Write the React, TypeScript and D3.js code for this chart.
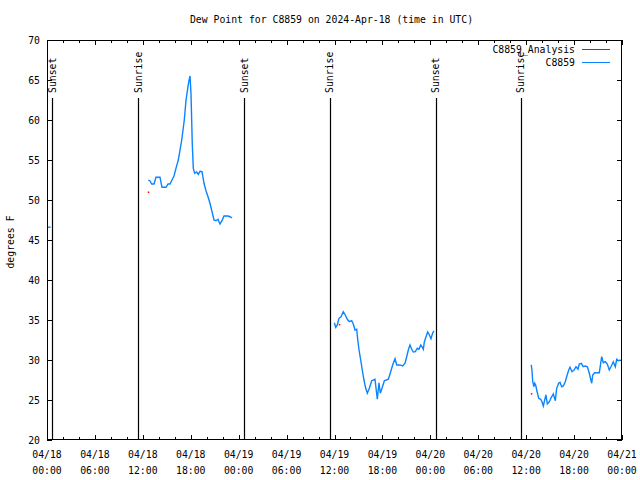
import React from "react";
import * as d3 from "d3";

// hours since 2024-04-18 00:00 UTC
const seg0Hours = [-0.5, 0.45];
const seg0Values = [46.6, 46.6];

const seg1Hours = [12.68, 12.9, 13.11, 13.4, 13.65, 14.15, 14.4, 14.9, 15.15, 15.4, 15.65, 15.9, 16.15, 16.44, 16.87, 17.19, 17.41, 17.62, 17.78, 17.91, 18.03, 18.19, 18.32, 18.49, 18.75, 18.95, 19.16, 19.41, 19.66, 19.91, 20.16, 20.41, 20.66, 20.91, 21.16, 21.41, 21.66, 21.91, 22.16, 22.66, 22.92, 23.17];
const seg1Values = [52.5, 52.38, 52.0, 52.0, 52.84, 52.84, 51.59, 51.59, 52.0, 52.0, 52.5, 53.0, 53.96, 55.0, 57.5, 60.0, 62.5, 63.96, 64.91, 65.5, 63.34, 57.09, 53.96, 53.34, 53.5, 53.21, 53.59, 53.54, 52.09, 51.16, 50.41, 49.59, 48.54, 47.5, 47.41, 47.59, 47.0, 47.41, 48.0, 48.0, 47.91, 47.75];

const seg2Hours = [35.98, 36.15, 36.35, 36.56, 36.81, 37.1, 37.35, 37.6, 37.85, 38.15, 38.35, 38.57, 38.78, 38.86, 39.07, 39.28, 39.48, 39.69, 39.91, 40.11, 40.36, 40.66, 41.07, 41.36, 41.57, 41.74, 41.99, 42.24, 42.74, 42.95, 43.16, 43.36, 43.58, 43.79, 44.2, 44.54, 44.83, 45.04, 45.24, 45.45, 45.67, 45.87, 46.12, 46.37, 46.58, 46.8, 47.0, 47.12, 47.25, 47.46, 47.67, 47.87, 48.08, 48.3, 48.46];
const seg2Values = [34.66, 34.09, 34.38, 35.21, 35.41, 36.04, 35.63, 35.09, 34.79, 34.91, 34.5, 33.75, 33.84, 33.0, 31.25, 30.0, 28.75, 27.5, 26.46, 25.84, 26.46, 27.41, 27.59, 25.09, 27.16, 25.84, 26.59, 27.41, 27.59, 28.25, 28.96, 29.59, 30.16, 29.38, 29.38, 29.25, 29.59, 30.41, 31.25, 31.88, 31.34, 31.0, 31.04, 31.46, 31.34, 31.88, 31.59, 31.34, 32.25, 32.91, 33.5, 33.16, 32.66, 33.41, 33.63];

const seg3Hours = [60.64, 60.73, 60.82, 60.98, 61.07, 61.19, 61.32, 61.57, 61.82, 61.98, 62.15, 62.32, 62.48, 62.65, 62.9, 63.15, 63.4, 63.65, 63.82, 64.07, 64.24, 64.45, 64.65, 64.9, 65.07, 65.33, 65.49, 65.74, 65.99, 66.24, 66.49, 66.65, 66.9, 67.15, 67.4, 67.66, 67.91, 68.08, 68.21, 68.33, 68.58, 68.91, 69.16, 69.33, 69.46, 69.66, 69.91, 70.16, 70.41, 70.66, 70.91, 71.16, 71.34, 71.59, 71.84];
const seg3Values = [29.38, 28.66, 27.29, 26.66, 27.09, 26.88, 26.25, 25.21, 25.09, 24.79, 24.25, 25.0, 25.63, 24.5, 24.79, 25.34, 25.75, 24.91, 26.46, 27.09, 27.21, 26.66, 26.75, 27.29, 27.91, 28.75, 29.09, 28.54, 28.75, 29.16, 28.84, 29.5, 29.59, 29.16, 29.25, 29.16, 28.34, 27.59, 27.09, 28.13, 28.41, 28.41, 28.41, 29.59, 30.41, 29.66, 29.79, 29.5, 28.75, 29.25, 29.79, 29.16, 30.09, 29.91, 30.0];

const analysisHours = [12.68, 36.6, 60.65];
const analysisValues = [51.0, 34.45, 25.8];

const sunHours = [0.63, 11.4, 24.67, 35.4, 48.7, 59.35];
const sunLabels = ["Sunset", "Sunrise", "Sunset", "Sunrise", "Sunset", "Sunrise"];

const xTickHours = [0, 6, 12, 18, 24, 30, 36, 42, 48, 54, 60, 66, 72];
const xTickDates = ["04/18", "04/18", "04/18", "04/18", "04/19", "04/19", "04/19", "04/19", "04/20", "04/20", "04/20", "04/20", "04/21"];
const xTickTimes = ["00:00", "06:00", "12:00", "18:00", "00:00", "06:00", "12:00", "18:00", "00:00", "06:00", "12:00", "18:00", "00:00"];
const yTicks = [20, 25, 30, 35, 40, 45, 50, 55, 60, 65, 70];

const FONT = "'DejaVu Sans Mono', monospace";
const BLUE = "#0a84ff";
const RED = "#ff0000";

export default function App() {
  const W = 640, H = 480;
  const L = 47, R = 622, T = 40, B = 440;
  const x = d3.scaleLinear().domain([0, 72]).range([L, R]);
  const y = d3.scaleLinear().domain([20, 70]).range([B, T]);
  const line = d3
    .line<[number, number]>()
    .x((d) => x(d[0]))
    .y((d) => y(d[1]));
  const segs = [
    [seg0Hours, seg0Values],
    [seg1Hours, seg1Values],
    [seg2Hours, seg2Values],
    [seg3Hours, seg3Values],
  ].map(([h, v]) => h.map((t, i) => [t, v[i]] as [number, number]));
  const minorHours = d3.range(0, 73, 2).filter((h) => h % 6 !== 0);

  return (
    <svg width={W} height={H} style={{ position: "absolute", left: 0, top: 0, background: "#fff" }} fontFamily={FONT} fontSize={9.8}>
      <rect x={0} y={0} width={W} height={H} fill="#fff" />
      <defs>
        <clipPath id="plotclip">
          <rect x={L} y={T} width={R - L} height={B - T} />
        </clipPath>
      </defs>
      <text x={(L + R) / 2 - 3} y={23} textAnchor="middle" fill="#000">
        Dew Point for C8859 on 2024-Apr-18 (time in UTC)
      </text>
      {/* y ticks */}
      {yTicks.map((v) => (
        <g key={"y" + v}>
          <line x1={L} x2={L + 5} y1={Math.round(y(v)) + 0.5} y2={Math.round(y(v)) + 0.5} stroke="#000" />
          <line x1={R - 5} x2={R} y1={Math.round(y(v)) + 0.5} y2={Math.round(y(v)) + 0.5} stroke="#000" />
          <text x={40} y={y(v) + 3.5} textAnchor="end" fill="#000">
            {v}
          </text>
        </g>
      ))}
      {/* x ticks */}
      {xTickHours.map((h, i) => (
        <g key={"x" + h}>
          <line x1={Math.round(x(h)) + 0.5} x2={Math.round(x(h)) + 0.5} y1={B} y2={B - 5} stroke="#000" />
          <line x1={Math.round(x(h)) + 0.5} x2={Math.round(x(h)) + 0.5} y1={T} y2={T + 5} stroke="#000" />
          <text x={x(h)} y={458} textAnchor="middle" fill="#000">
            {xTickDates[i]}
          </text>
          <text x={x(h)} y={474} textAnchor="middle" fill="#000">
            {xTickTimes[i]}
          </text>
        </g>
      ))}
      {minorHours.map((h) => (
        <g key={"m" + h}>
          <line x1={Math.round(x(h)) + 0.5} x2={Math.round(x(h)) + 0.5} y1={B} y2={B - 3} stroke="#000" />
          <line x1={Math.round(x(h)) + 0.5} x2={Math.round(x(h)) + 0.5} y1={T} y2={T + 3} stroke="#000" />
        </g>
      ))}
      <text transform={`translate(14,${(T + B) / 2 + 2}) rotate(-90)`} textAnchor="middle" fill="#000">
        degrees F
      </text>
      {/* sun lines */}
      {sunHours.map((h, i) => (
        <g key={"s" + i}>
          <line x1={Math.round(x(h)) + 0.5} x2={Math.round(x(h)) + 0.5} y1={98} y2={B} stroke="#000" strokeWidth={1.2} />
          <text transform={`translate(${x(h) + 3.5},93) rotate(-90)`} textAnchor="start" fill="#000">
            {sunLabels[i]}
          </text>
        </g>
      ))}
      {/* data */}
      <g clipPath="url(#plotclip)">
        {segs.map((s, i) => (
          <path key={"p" + i} d={line(s) || ""} fill="none" stroke={BLUE} strokeWidth={1.4} />
        ))}
        {analysisHours.map((h, i) => (
          <rect key={"a" + i} x={x(h) - 0.5} y={y(analysisValues[i]) - 0.5} width={1.5} height={1.5} fill={RED} />
        ))}
      </g>
      {/* legend */}
      <text x={575} y={53} textAnchor="end" fill="#000">
        C8859_Analysis
      </text>
      <line x1={582} x2={610} y1={49.5} y2={49.5} stroke={RED} strokeWidth={1} shapeRendering="crispEdges" />
      <text x={575} y={66} textAnchor="end" fill="#000">
        C8859
      </text>
      <line x1={582} x2={610} y1={62.5} y2={62.5} stroke={BLUE} strokeWidth={1} shapeRendering="crispEdges" />
      {/* border */}
      <rect x={L + 0.5} y={T + 0.5} width={R - L - 1} height={B - T - 1} fill="none" stroke="#000" />
    </svg>
  );
}
